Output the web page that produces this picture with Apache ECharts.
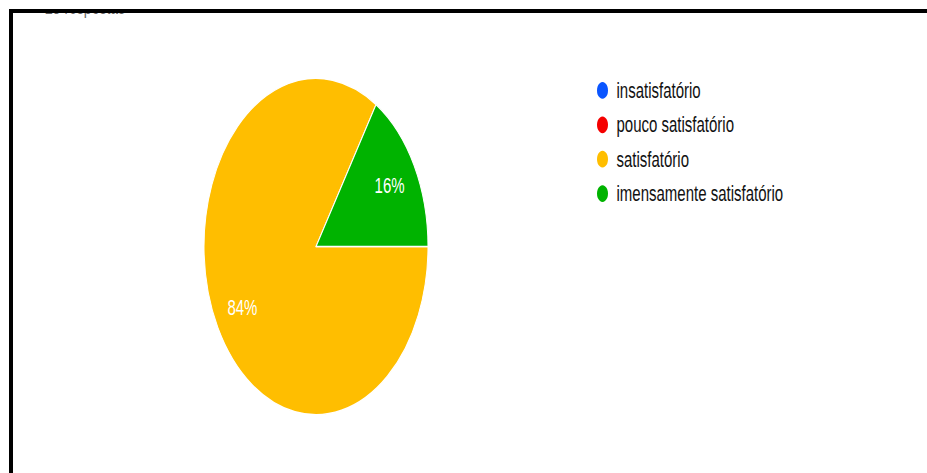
<!DOCTYPE html>
<html>
<head>
<meta charset="utf-8">
<script src="https://cdn.jsdelivr.net/npm/echarts@6/dist/echarts.min.js"></script>
<style>
  html, body { margin: 0; padding: 0; background: #ffffff; width: 927px; height: 473px; }
  /* the chart is laid out on a short canvas and stretched vertically */
  #chart { width: 927px; height: 315px; transform: scaleY(1.50159); transform-origin: 0 0; }
</style>
</head>
<body>
<div id="chart"></div>
<script>
const categories = ['insatisfatório', 'pouco satisfatório', 'satisfatório', 'imensamente satisfatório'];
const responses = [0, 0, 21, 4];
const sliceColors = ['#0a55ff', '#f50000', '#ffbe00', '#00b300'];
const totalLabel = '25 respostas';

const font = '"Liberation Sans", Arial, sans-serif';
const pieData = categories.map((name, i) => ({ name, value: responses[i] }));

const chart = echarts.init(document.getElementById('chart'), null, { renderer: 'svg' });
chart.setOption({
  animation: false,
  backgroundColor: '#ffffff',
  color: sliceColors,
  legend: {
    orient: 'vertical',
    left: 595,
    top: 52.7,
    padding: 0,
    icon: 'circle',
    itemWidth: 14,
    itemHeight: 13,
    itemGap: 7.9,
    selectedMode: false,
    data: categories,
    textStyle: { color: '#111111', fontSize: 15, fontFamily: font, lineHeight: 13, padding: [0, 0, 0, 2] }
  },
  series: [
    {
      type: 'pie',
      center: [316, 164.2],
      radius: 112,
      startAngle: 0,
      clockwise: true,
      silent: true,
      data: pieData,
      itemStyle: { borderColor: '#ffffff', borderWidth: 1 },
      label: { show: false },
      labelLine: { show: false }
    },
    {
      // transparent ring that only carries the percentage labels
      type: 'pie',
      center: [316, 164.2],
      radius: [50, 112],
      startAngle: 0,
      clockwise: true,
      silent: true,
      data: pieData,
      itemStyle: { color: 'rgba(0,0,0,0)', borderWidth: 0 },
      label: {
        show: true,
        position: 'inside',
        color: '#ffffff',
        fontSize: 15,
        fontFamily: font,
        formatter: p => (p.value ? Math.round(p.percent) + '%' : '')
      },
      labelLine: { show: false }
    }
  ],
  graphic: [
    {
      // response count, mostly hidden under the frame's top edge
      type: 'text',
      z: 10,
      style: { x: 45, y: -2.4, text: totalLabel, fill: '#666666', font: '14px ' + font }
    },
    { type: 'rect', z: 11, shape: { x: 0, y: 0, width: 927, height: 6 }, style: { fill: '#ffffff' } },
    { type: 'rect', z: 12, shape: { x: 9, y: 6, width: 918, height: 2.7 }, style: { fill: '#000000' } },
    { type: 'rect', z: 12, shape: { x: 9, y: 6, width: 4, height: 320 }, style: { fill: '#000000' } }
  ]
});
</script>
</body>
</html>
